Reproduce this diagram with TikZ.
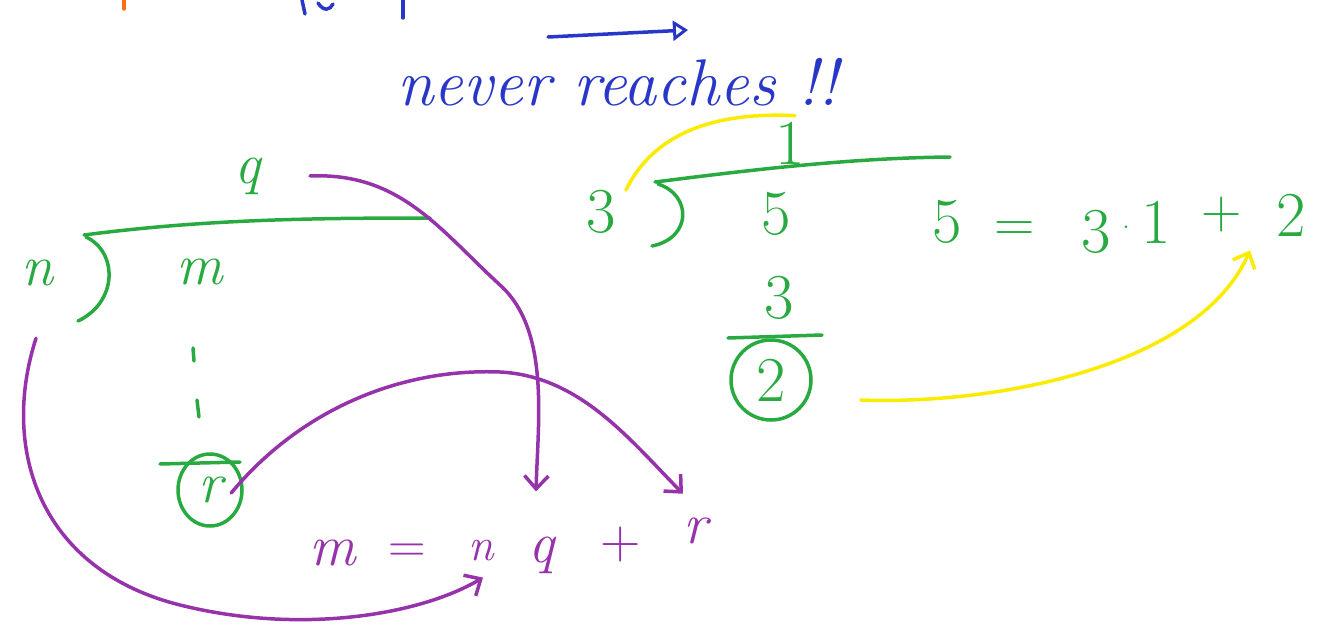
\documentclass[tikz,border=0pt]{standalone}
\usepackage{xcolor}
\usepackage{tikz}
\usetikzlibrary{arrows.meta,positioning,calc}

\definecolor{penGreen}{RGB}{40,170,65}
\definecolor{penPurple}{RGB}{150,50,170}
\definecolor{penBlue}{RGB}{40,55,200}
\definecolor{penYellow}{RGB}{250,235,0}
\definecolor{penOrange}{RGB}{250,110,20}

\begin{document}
\begin{tikzpicture}[
  x=1pt, y=-1pt,
  ink/.style={line width=3.5pt, line cap=round, line join=round},
  greenink/.style={ink, draw=penGreen},
  purpleink/.style={ink, draw=penPurple},
  yellowink/.style={ink, draw=penYellow},
  blueink/.style={ink, draw=penBlue},
  barb/.style={-{Straight Barb[length=13pt,width=24pt,line width=3.5pt]}},
  hand/.style={inner sep=0pt, font=\fontsize{64}{64}\selectfont},
  letter/.style={inner sep=0pt, font=\fontsize{58}{58}\selectfont\itshape},
  greentxt/.style={hand, text=penGreen},
  purpletxt/.style={hand, text=penPurple}
]
\useasboundingbox (0,0) rectangle (1334,626);

% cut-off top line
\draw[ink, draw=penOrange] (124,0) -- (124,9);
\draw[blueink] (302,0) -- (305,14);
\draw[blueink] (318,3) .. controls (324,12) and (330,10) .. (333,4);
\draw[blueink] (403,0) -- (403,18);

% blue remark
\coordinate (bstart) at (548,37);
\coordinate (bend) at (688,30);
\draw[blueink, -{Triangle[open,length=15pt,width=20pt,line width=3pt]}] (bstart) -- (bend);
\node[hand, text=penBlue, font=\fontsize{66}{66}\selectfont\itshape] (never) at (618,82) {never reaches !!};

% long division m by n
\node[letter, text=penGreen] (qtop) at (248,176) {q};
\node[letter, text=penGreen] (ndiv) at (37,273) {n};
\node[letter, text=penGreen] (mdiv) at (200,272) {m};
\draw[greenink] (84,235) .. controls (200,220) and (300,218) .. (430,218);
\draw[greenink] (86,237) .. controls (118,252) and (118,302) .. (78,321);
\draw[greenink] (193,348) -- (194,361);
\draw[greenink] (197,400) -- (199,417);
\draw[greenink] (160,464) -- (240,462);
\node[letter, text=penGreen] (rdiv) at (210,490) {r};
\draw[greenink] (rdiv) ellipse (32pt and 36pt);

% m = n q + r
\node[letter, text=penPurple] (meq) at (333,553) {m};
\node[purpletxt, font=\fontsize{52}{52}\selectfont] (eqsign) at (407,553) {=};
\node[letter, text=penPurple, font=\fontsize{46}{46}\selectfont\itshape] (neq) at (481,551) {n};
\node[letter, text=penPurple] (qeq) at (542,555) {q};
\node[purpletxt, font=\fontsize{56}{56}\selectfont] (pluseq) at (621,545) {+};
\node[letter, text=penPurple] (req) at (695,531) {r};

\coordinate (qstart) at (310,176);
\draw[purpleink, barb] (qstart) .. controls (400,172) and (440,230) .. (500,285)
  .. controls (550,330) and (538,420) .. ($(qeq.north)+(-6,-45)$);
\draw[purpleink, barb] ($(rdiv.east)+(9,3)$) .. controls (300,410) and (400,368) .. (500,372)
  .. controls (580,376) and (630,440) .. ($(req.north)+(-12,-24)$);
\draw[purpleink, barb] ($(ndiv.south)+(-1,52)$) .. controls (0,450) and (40,570) .. (180,605)
  .. controls (300,635) and (420,615) .. ($(neq.south)+(2,16)$);

% long division 5 by 3
\node[greentxt] (onetop) at (790,143) {1};
\node[greentxt] (threediv) at (601,212) {3};
\node[greentxt] (fivediv) at (776,214) {5};
\draw[greenink] (655,182) .. controls (750,170) and (850,158) .. (950,157);
\draw[greenink] (658,184) .. controls (692,195) and (692,238) .. (652,246);
\node[greentxt] (threesub) at (779,298) {3};
\draw[greenink] (728,338) -- (822,335);
\node[greentxt] (tworem) at (771,380) {2};
\draw[greenink] (tworem) ellipse (40pt and 40pt);

% 5 = 3.1 + 2
\node[greentxt] (fiveeq) at (947,222) {5};
\node[greentxt, font=\fontsize{56}{56}\selectfont] (eqright) at (1015,232) {=};
\node[greentxt] (threeeq) at (1096,232) {3};
\node[greentxt] (doteq) at (1126,228) {$\cdot$};
\node[greentxt] (oneeq) at (1156,222) {1};
\node[greentxt, font=\fontsize{56}{56}\selectfont] (plusright) at (1222,215) {+};
\node[greentxt] (twoeq) at (1291,215) {2};

\draw[yellowink] ($(threediv.north east)+(10,0)$) .. controls (660,120) and (740,113) .. ($(onetop.north)+(5,-6)$);
\draw[yellowink, barb] ($(tworem.east)+(75,20)$) .. controls (1000,405) and (1200,365) .. ($(twoeq.south)+(-41,14)$);
\end{tikzpicture}
\end{document}
